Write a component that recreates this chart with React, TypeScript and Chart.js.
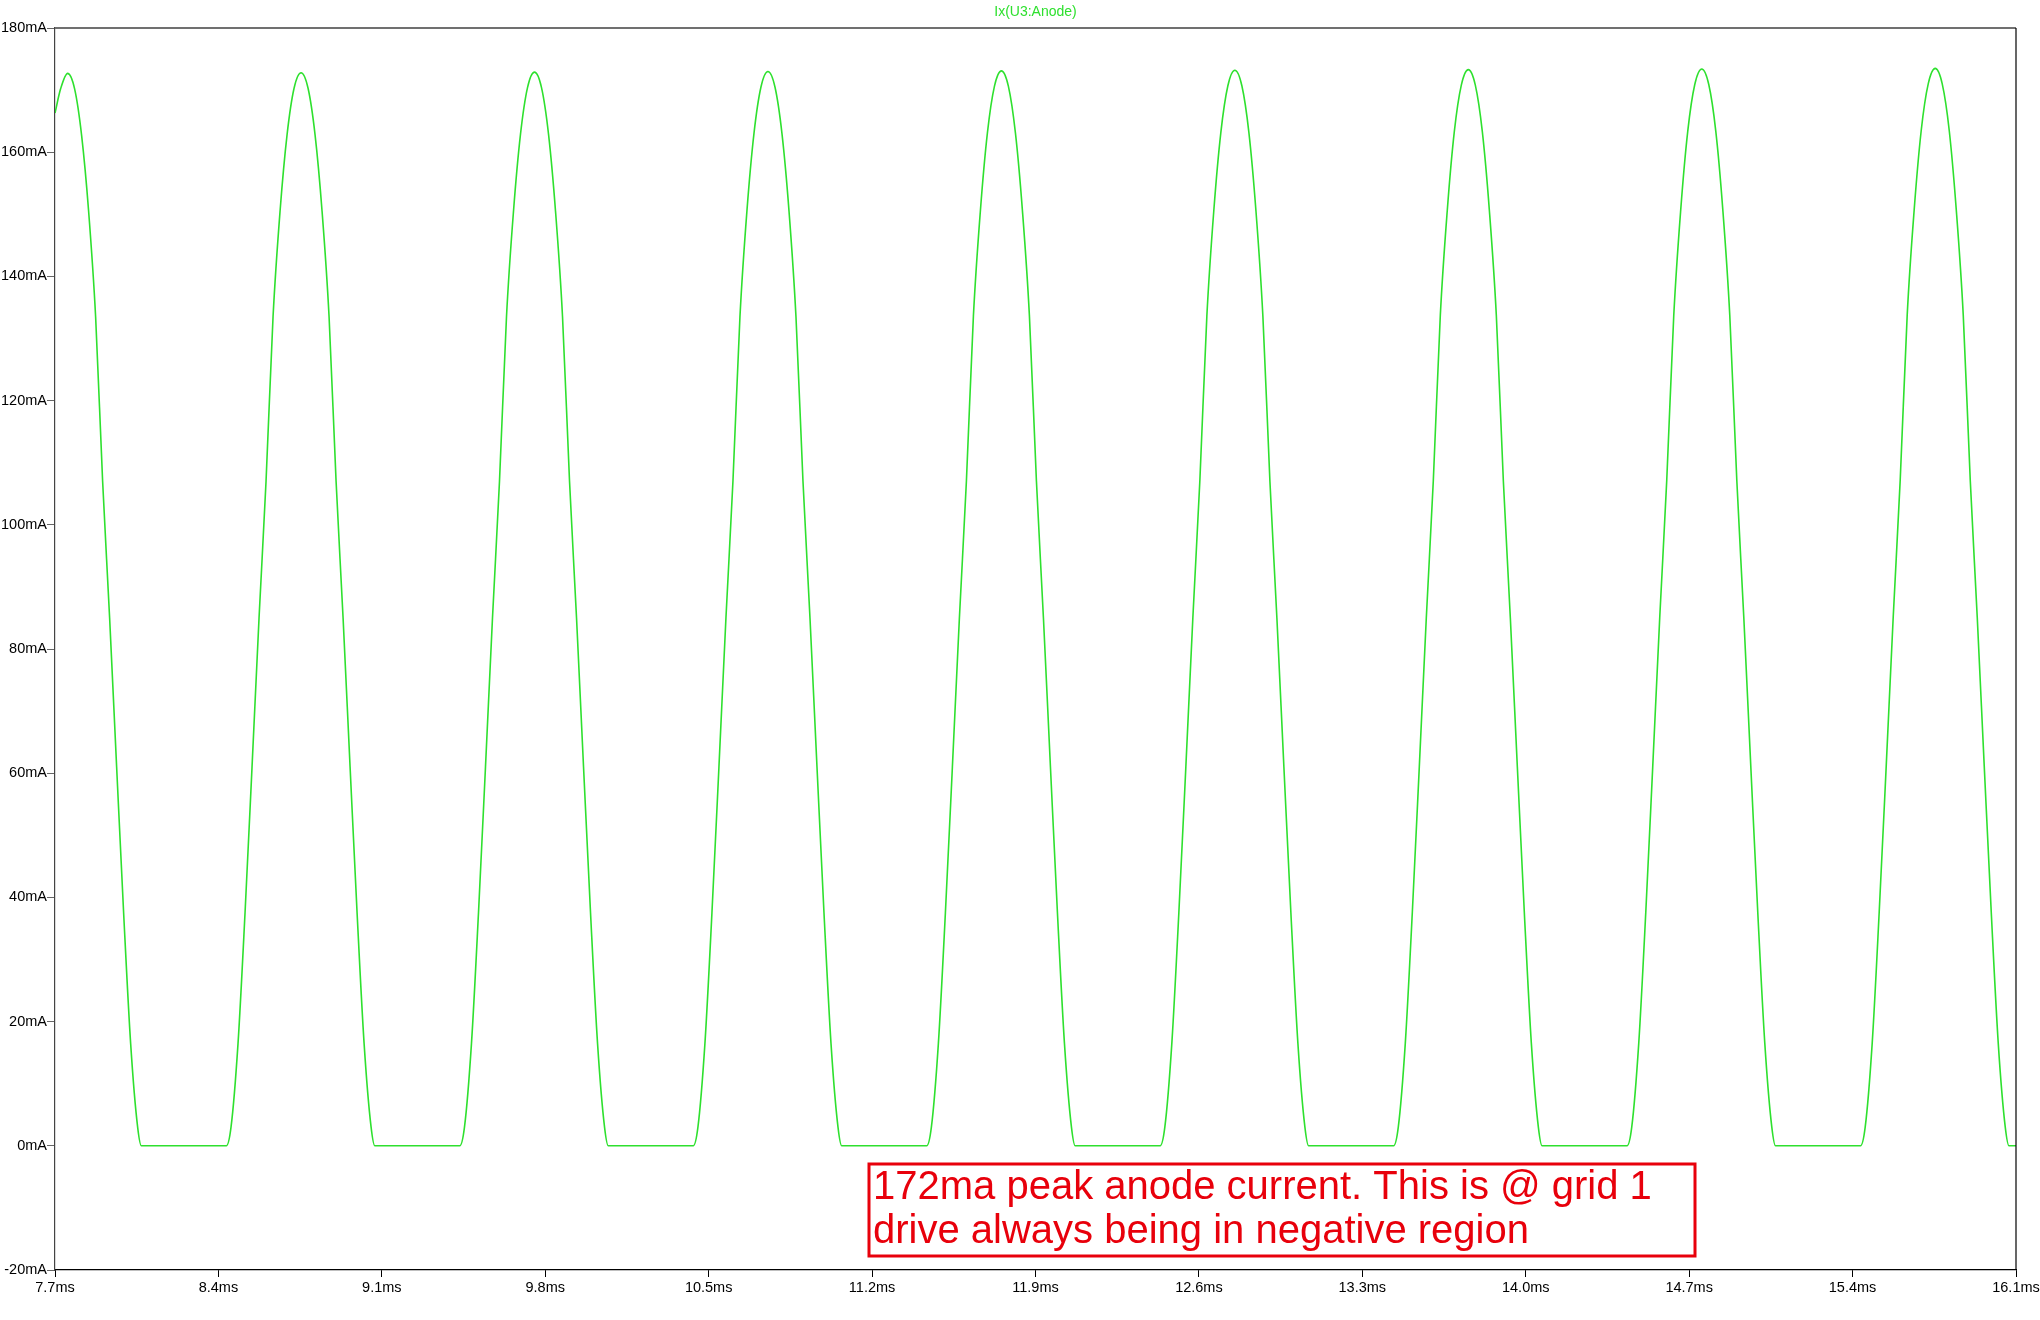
import React, { useEffect, useRef } from 'react';
import { Chart, registerables } from 'chart.js';

Chart.register(...registerables);

const seriesLabel = 'Ix(U3:Anode)';

// time (ms) of each sample
const timeMs = [
  // partial pulse, peak ~7.754
  7.700, 7.724, 7.754, 7.784, 7.814, 7.844, 7.874, 7.904, 7.934, 7.964, 7.994, 8.024, 8.054, 8.070,
  // pulse peak ~8.754
  8.434, 8.454, 8.484, 8.514, 8.544, 8.574, 8.604, 8.634, 8.664, 8.694, 8.724, 8.754,
  8.784, 8.814, 8.844, 8.874, 8.904, 8.934, 8.964, 8.994, 9.024, 9.054, 9.070,
  // pulse peak ~9.754
  9.434, 9.454, 9.484, 9.514, 9.544, 9.574, 9.604, 9.634, 9.664, 9.694, 9.724, 9.754,
  9.784, 9.814, 9.844, 9.874, 9.904, 9.934, 9.964, 9.994, 10.024, 10.054, 10.070,
  // pulse peak ~10.754
  10.434, 10.454, 10.484, 10.514, 10.544, 10.574, 10.604, 10.634, 10.664, 10.694, 10.724, 10.754,
  10.784, 10.814, 10.844, 10.874, 10.904, 10.934, 10.964, 10.994, 11.024, 11.054, 11.070,
  // pulse peak ~11.754
  11.434, 11.454, 11.484, 11.514, 11.544, 11.574, 11.604, 11.634, 11.664, 11.694, 11.724, 11.754,
  11.784, 11.814, 11.844, 11.874, 11.904, 11.934, 11.964, 11.994, 12.024, 12.054, 12.070,
  // pulse peak ~12.754
  12.434, 12.454, 12.484, 12.514, 12.544, 12.574, 12.604, 12.634, 12.664, 12.694, 12.724, 12.754,
  12.784, 12.814, 12.844, 12.874, 12.904, 12.934, 12.964, 12.994, 13.024, 13.054, 13.070,
  // pulse peak ~13.754
  13.434, 13.454, 13.484, 13.514, 13.544, 13.574, 13.604, 13.634, 13.664, 13.694, 13.724, 13.754,
  13.784, 13.814, 13.844, 13.874, 13.904, 13.934, 13.964, 13.994, 14.024, 14.054, 14.070,
  // pulse peak ~14.754
  14.434, 14.454, 14.484, 14.514, 14.544, 14.574, 14.604, 14.634, 14.664, 14.694, 14.724, 14.754,
  14.784, 14.814, 14.844, 14.874, 14.904, 14.934, 14.964, 14.994, 15.024, 15.054, 15.070,
  // pulse peak ~15.754
  15.434, 15.454, 15.484, 15.514, 15.544, 15.574, 15.604, 15.634, 15.664, 15.694, 15.724, 15.754,
  15.784, 15.814, 15.844, 15.874, 15.904, 15.934, 15.964, 15.994, 16.024, 16.054, 16.070,
  16.100,
];

// anode current (mA) at each sample
const anodeCurrentMa = [
  166.3, 170.2, 172.7, 170.2, 162.7, 150.5, 133.5, 107, 85, 61, 37.5, 16.5, 3, 0,

  0, 3, 16.5, 37.5, 61, 85, 107, 133.5, 150.5, 162.8, 170.3, 172.8,
  170.3, 162.8, 150.5, 133.5, 107, 85, 61, 37.5, 16.5, 3, 0,

  0, 3, 16.5, 37.5, 61, 85, 107, 133.5, 150.5, 162.9, 170.4, 172.9,
  170.4, 162.9, 150.5, 133.5, 107, 85, 61, 37.5, 16.5, 3, 0,

  0, 3, 16.5, 37.5, 61, 85, 107, 133.5, 150.6, 163.0, 170.5, 173.0,
  170.5, 163.0, 150.6, 133.5, 107, 85, 61, 37.5, 16.5, 3, 0,

  0, 3, 16.5, 37.5, 61, 85, 107, 133.6, 150.6, 163.1, 170.6, 173.1,
  170.6, 163.1, 150.6, 133.6, 107, 85, 61, 37.5, 16.5, 3, 0,

  0, 3, 16.5, 37.5, 61, 85, 107.1, 133.6, 150.7, 163.2, 170.7, 173.2,
  170.7, 163.2, 150.7, 133.6, 107.1, 85, 61, 37.5, 16.5, 3, 0,

  0, 3, 16.5, 37.5, 61, 85, 107.1, 133.7, 150.7, 163.3, 170.8, 173.3,
  170.8, 163.3, 150.7, 133.7, 107.1, 85, 61, 37.5, 16.5, 3, 0,

  0, 3, 16.5, 37.5, 61.1, 85.1, 107.2, 133.7, 150.8, 163.4, 170.9, 173.4,
  170.9, 163.4, 150.8, 133.7, 107.2, 85.1, 61.1, 37.5, 16.5, 3, 0,

  0, 3, 16.5, 37.6, 61.1, 85.1, 107.2, 133.8, 150.8, 163.5, 171.0, 173.5,
  171.0, 163.5, 150.8, 133.8, 107.2, 85.1, 61.1, 37.6, 16.5, 3, 0,
  0,
];

const xTicksMs = [7.7, 8.4, 9.1, 9.8, 10.5, 11.2, 11.9, 12.6, 13.3, 14.0, 14.7, 15.4, 16.1];
const yTicksMa = [-20, 0, 20, 40, 60, 80, 100, 120, 140, 160, 180];

const noteLines = [
  '172ma peak anode current. This is @ grid 1',
  'drive always being in negative region',
];

const FONT = '"Liberation Sans", Arial, Helvetica, sans-serif';
const TRACE_GREEN = '#2ee02e';
const NOTE_RED = '#e8000b';

const framePlugin = {
  id: 'ltspiceFrame',
  afterDraw(chart: any) {
    const { ctx, chartArea: a } = chart;
    ctx.save();
    // top border
    ctx.strokeStyle = '#707070';
    ctx.lineWidth = 2;
    ctx.beginPath();
    ctx.moveTo(a.left, a.top);
    ctx.lineTo(a.right, a.top);
    ctx.stroke();
    // right border
    ctx.strokeStyle = '#000';
    ctx.lineWidth = 1.2;
    ctx.beginPath();
    ctx.moveTo(a.right, a.top);
    ctx.lineTo(a.right, a.bottom);
    ctx.stroke();
    // trace label
    ctx.fillStyle = TRACE_GREEN;
    ctx.font = `14px ${FONT}`;
    ctx.textAlign = 'center';
    ctx.textBaseline = 'middle';
    ctx.fillText(seriesLabel, (a.left + a.right) / 2, 12);
    // note box
    ctx.strokeStyle = NOTE_RED;
    ctx.lineWidth = 3;
    ctx.strokeRect(869, 1164, 826, 92);
    ctx.fillStyle = NOTE_RED;
    ctx.font = `40px ${FONT}`;
    ctx.textAlign = 'left';
    ctx.textBaseline = 'alphabetic';
    ctx.fillText(noteLines[0], 873, 1199);
    ctx.fillText(noteLines[1], 873, 1243);
    ctx.restore();
  },
};

export default function App() {
  const ref = useRef<HTMLCanvasElement>(null);

  useEffect(() => {
    document.body.style.margin = '0';
    const points = timeMs.map((t, i) => ({ x: t, y: anodeCurrentMa[i] }));
    const chart = new Chart(ref.current as HTMLCanvasElement, {
      type: 'line',
      data: {
        datasets: [
          {
            label: seriesLabel,
            data: points,
            borderColor: TRACE_GREEN,
            borderWidth: 1.6,
            pointRadius: 0,
            fill: false,
            cubicInterpolationMode: 'monotone',
          },
        ],
      },
      options: {
        animation: false,
        responsive: false,
        maintainAspectRatio: false,
        devicePixelRatio: 1,
        layout: { padding: { top: 28, right: 24, left: 0, bottom: 0 } },
        plugins: {
          legend: { display: false },
          tooltip: { enabled: false },
          title: { display: false },
        },
        scales: {
          x: {
            type: 'linear',
            min: 7.7,
            max: 16.1,
            afterBuildTicks: (scale: any) => {
              scale.ticks = xTicksMs.map((v) => ({ value: v }));
            },
            afterFit: (scale: any) => {
              scale.height = 50;
              scale.paddingLeft = 0;
              scale.paddingRight = 0;
            },
            ticks: {
              autoSkip: false,
              maxRotation: 0,
              minRotation: 0,
              padding: 2,
              color: '#000',
              font: { family: FONT, size: 14.5 },
              callback: (v: any) => Number(v).toFixed(1) + 'ms',
            },
            grid: {
              drawOnChartArea: false,
              drawTicks: true,
              tickLength: 7,
              color: '#000',
              tickColor: '#000',
            },
            border: { display: true, color: '#000', width: 1.2 },
          },
          y: {
            type: 'linear',
            min: -20,
            max: 180,
            afterBuildTicks: (scale: any) => {
              scale.ticks = yTicksMa.map((v) => ({ value: v }));
            },
            afterFit: (scale: any) => {
              scale.width = 55;
              scale.paddingTop = 0;
              scale.paddingBottom = 0;
            },
            ticks: {
              autoSkip: false,
              padding: 0,
              color: '#000',
              font: { family: FONT, size: 14.5 },
              callback: (v: any) => String(v) + 'mA',
            },
            grid: {
              drawOnChartArea: false,
              drawTicks: true,
              tickLength: 8,
              color: '#666',
              tickColor: '#666',
            },
            border: { display: true, color: '#444', width: 1.2 },
          },
        },
      },
      plugins: [framePlugin],
    } as any);
    return () => chart.destroy();
  }, []);

  return (
    <div style={{ width: 2040, height: 1320 }}>
      <canvas ref={ref} width={2040} height={1320} style={{ display: 'block' }} />
    </div>
  );
}
